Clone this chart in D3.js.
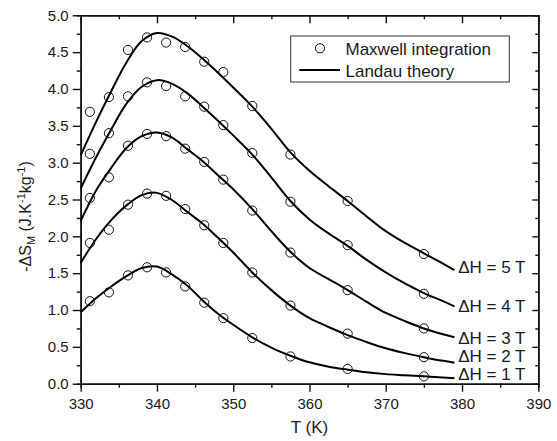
<!DOCTYPE html>
<html>
<head>
<meta charset="utf-8">
<script src="https://cdn.jsdelivr.net/npm/d3@7"></script>
<style>
  html, body { margin: 0; padding: 0; background: #fff; }
  svg text { font-family: Arial, "Liberation Sans", sans-serif; fill: #1a1a1a; }
</style>
</head>
<body>
<svg id="chart" width="557" height="441"></svg>
<script>
// Temperatures of the Maxwell-relation points (K)
const tMaxwell = [331.2, 333.7, 336.2, 338.7, 341.2, 343.7, 346.2, 348.7, 352.5, 357.5, 365, 375];
// -ΔS_M from Maxwell integration, one list per field change
const maxwell5T = [3.69, 3.89, 4.53, 4.70, 4.63, 4.57, 4.37, 4.23, 3.77, 3.11, 2.48, 1.76];
const maxwell4T = [3.12, 3.40, 3.90, 4.09, 4.04, 3.90, 3.76, 3.51, 3.13, 2.47, 1.88, 1.22];
const maxwell3T = [2.52, 2.80, 3.23, 3.39, 3.36, 3.19, 3.01, 2.77, 2.35, 1.78, 1.27, 0.75];
const maxwell2T = [1.91, 2.09, 2.43, 2.58, 2.55, 2.37, 2.15, 1.91, 1.51, 1.06, 0.68, 0.36];
const maxwell1T = [1.12, 1.24, 1.47, 1.58, 1.51, 1.32, 1.10, 0.89, 0.62, 0.37, 0.20, 0.10];

// Landau-theory curves sampled along temperature (K)
const tLandau = [330, 332, 334, 336, 338, 340, 342, 344, 346, 348, 350, 352.5, 355, 357.5, 360, 362.5, 365, 367.5, 370, 372.5, 375, 377.5, 379];
const landau5T = [3.10, 3.55, 3.97, 4.36, 4.65, 4.76, 4.71, 4.58, 4.41, 4.22, 4.02, 3.76, 3.46, 3.14, 2.89, 2.68, 2.48, 2.27, 2.07, 1.91, 1.77, 1.63, 1.54];
const landau4T = [2.65, 3.07, 3.45, 3.80, 4.03, 4.12, 4.07, 3.94, 3.76, 3.57, 3.37, 3.11, 2.80, 2.48, 2.23, 2.04, 1.87, 1.68, 1.51, 1.36, 1.23, 1.12, 1.05];
const landau3T = [2.21, 2.62, 2.93, 3.20, 3.36, 3.41, 3.34, 3.18, 3.02, 2.83, 2.64, 2.37, 2.07, 1.79, 1.57, 1.42, 1.27, 1.11, 0.96, 0.85, 0.75, 0.67, 0.63];
const landau2T = [1.64, 1.96, 2.22, 2.42, 2.56, 2.59, 2.49, 2.33, 2.17, 1.98, 1.78, 1.51, 1.27, 1.06, 0.89, 0.77, 0.66, 0.565, 0.48, 0.415, 0.36, 0.31, 0.285];
const landau1T = [0.97, 1.16, 1.32, 1.46, 1.57, 1.59, 1.48, 1.33, 1.13, 0.95, 0.80, 0.63, 0.49, 0.38, 0.29, 0.23, 0.19, 0.155, 0.13, 0.115, 0.10, 0.085, 0.075];

// Field-change labels and the -ΔS_M level each one sits at
const fieldLabels = ["ΔH = 5 T", "ΔH = 4 T", "ΔH = 3 T", "ΔH = 2 T", "ΔH = 1 T"];
const fieldLabelLevel = [1.58, 1.055, 0.627, 0.376, 0.132];

// Axis ticks
const xTicks = [330, 340, 350, 360, 370, 380, 390];
const xMinorTicks = [335, 345, 355, 365, 375, 385];
const yTicks = [0.0, 0.5, 1.0, 1.5, 2.0, 2.5, 3.0, 3.5, 4.0, 4.5, 5.0];
const yMinorTicks = [0.25, 0.75, 1.25, 1.75, 2.25, 2.75, 3.25, 3.75, 4.25, 4.75];

const maxwellSeries = [maxwell5T, maxwell4T, maxwell3T, maxwell2T, maxwell1T];
const landauSeries = [landau5T, landau4T, landau3T, landau2T, landau1T];

const svg = d3.select("#chart");
const plot = { left: 80.7, right: 538.3, top: 15.3, bottom: 383.7 };

const x = d3.scaleLinear().domain([330, 390]).range([plot.left, plot.right]);
const y = d3.scaleLinear().domain([0, 5]).range([plot.bottom, plot.top]);

const majorLen = 8, minorLen = 4;

// Bottom axis (outward ticks with labels)
const gBottom = svg.append("g").attr("transform", `translate(0,${plot.bottom})`);
gBottom.call(d3.axisBottom(x).tickValues(xTicks).tickSize(majorLen).tickSizeOuter(0).tickPadding(5).tickFormat(d3.format("d")));
gBottom.append("g").call(d3.axisBottom(x).tickValues(xMinorTicks).tickSize(minorLen).tickFormat(""));

// Left axis (outward ticks with labels)
const gLeft = svg.append("g").attr("transform", `translate(${plot.left},0)`);
gLeft.call(d3.axisLeft(y).tickValues(yTicks).tickSize(majorLen).tickSizeOuter(0).tickPadding(4).tickFormat(d3.format(".1f")));
gLeft.append("g").call(d3.axisLeft(y).tickValues(yMinorTicks).tickSize(minorLen).tickFormat(""));

// Top and right mirror axes with inward ticks
const gTop = svg.append("g").attr("transform", `translate(0,${plot.top})`);
gTop.call(d3.axisBottom(x).tickValues(xTicks).tickSize(majorLen).tickSizeOuter(0).tickFormat(""));
gTop.append("g").call(d3.axisBottom(x).tickValues(xMinorTicks).tickSize(minorLen).tickFormat(""));
const gRight = svg.append("g").attr("transform", `translate(${plot.right},0)`);
gRight.call(d3.axisLeft(y).tickValues(yTicks).tickSize(6).tickSizeOuter(0).tickFormat(""));
gRight.append("g").call(d3.axisLeft(y).tickValues(yMinorTicks).tickSize(3).tickFormat(""));

svg.selectAll(".domain").attr("stroke", "#111").attr("stroke-width", 1.6);
svg.selectAll(".tick line").attr("stroke", "#111").attr("stroke-width", 1.4);
svg.selectAll(".tick text").attr("font-size", 15).attr("fill", "#1a1a1a")
   .style("font-family", "Arial, 'Liberation Sans', sans-serif");
gBottom.selectAll(".tick text").attr("dy", "0.85em");

// Landau theory curves
const line = d3.line()
  .x((d, i) => x(tLandau[i]))
  .y(d => y(d))
  .curve(d3.curveCatmullRom.alpha(0.5));

svg.append("g").selectAll("path.landau")
  .data(landauSeries)
  .join("path")
  .attr("class", "landau")
  .attr("d", line)
  .attr("fill", "none")
  .attr("stroke", "#000")
  .attr("stroke-width", 2);

// Maxwell integration points
maxwellSeries.forEach(series => {
  svg.append("g").selectAll("circle")
    .data(series)
    .join("circle")
    .attr("cx", (d, i) => x(tMaxwell[i]))
    .attr("cy", d => y(d))
    .attr("r", 4.6)
    .attr("fill", "none")
    .attr("stroke", "#111")
    .attr("stroke-width", 1);
});

// Field-change labels at the curve ends
svg.append("g").selectAll("text")
  .data(fieldLabels)
  .join("text")
  .attr("x", x(379.5))
  .attr("y", (d, i) => y(fieldLabelLevel[i]))
  .attr("dy", "0.36em")
  .attr("font-size", 17)
  .text(d => d);

// Legend
const legend = svg.append("g");
legend.append("rect")
  .attr("x", 290.7).attr("y", 36).attr("width", 218.6).attr("height", 46)
  .attr("fill", "#fff").attr("stroke", "#333").attr("stroke-width", 1);
legend.append("circle")
  .attr("cx", 320).attr("cy", 48.3).attr("r", 4.6)
  .attr("fill", "none").attr("stroke", "#111").attr("stroke-width", 1);
legend.append("text").attr("x", 345.5).attr("y", 54.5).attr("font-size", 17).text("Maxwell integration");
legend.append("line")
  .attr("x1", 299.3).attr("x2", 340).attr("y1", 70).attr("y2", 70)
  .attr("stroke", "#000").attr("stroke-width", 2);
legend.append("text").attr("x", 345.5).attr("y", 76.5).attr("font-size", 17).text("Landau theory");

// Axis titles
svg.append("text")
  .attr("x", (plot.left + plot.right) / 2)
  .attr("y", 433)
  .attr("text-anchor", "middle")
  .attr("font-size", 17)
  .text("T (K)");

const yTitle = svg.append("text")
  .attr("transform", `translate(31,${(plot.top + plot.bottom) / 2 + 17}) rotate(-90)`)
  .attr("text-anchor", "middle")
  .attr("font-size", 16);
yTitle.append("tspan").text("-ΔS");
yTitle.append("tspan").attr("font-size", 11).attr("dy", 4).text("M");
yTitle.append("tspan").attr("dy", -4).text(" (J.K");
yTitle.append("tspan").attr("font-size", 11).attr("dy", -6).text("-1");
yTitle.append("tspan").attr("dy", 6).text("kg");
yTitle.append("tspan").attr("font-size", 11).attr("dy", -6).text("-1");
yTitle.append("tspan").attr("dy", 6).text(")");
</script>
</body>
</html>
